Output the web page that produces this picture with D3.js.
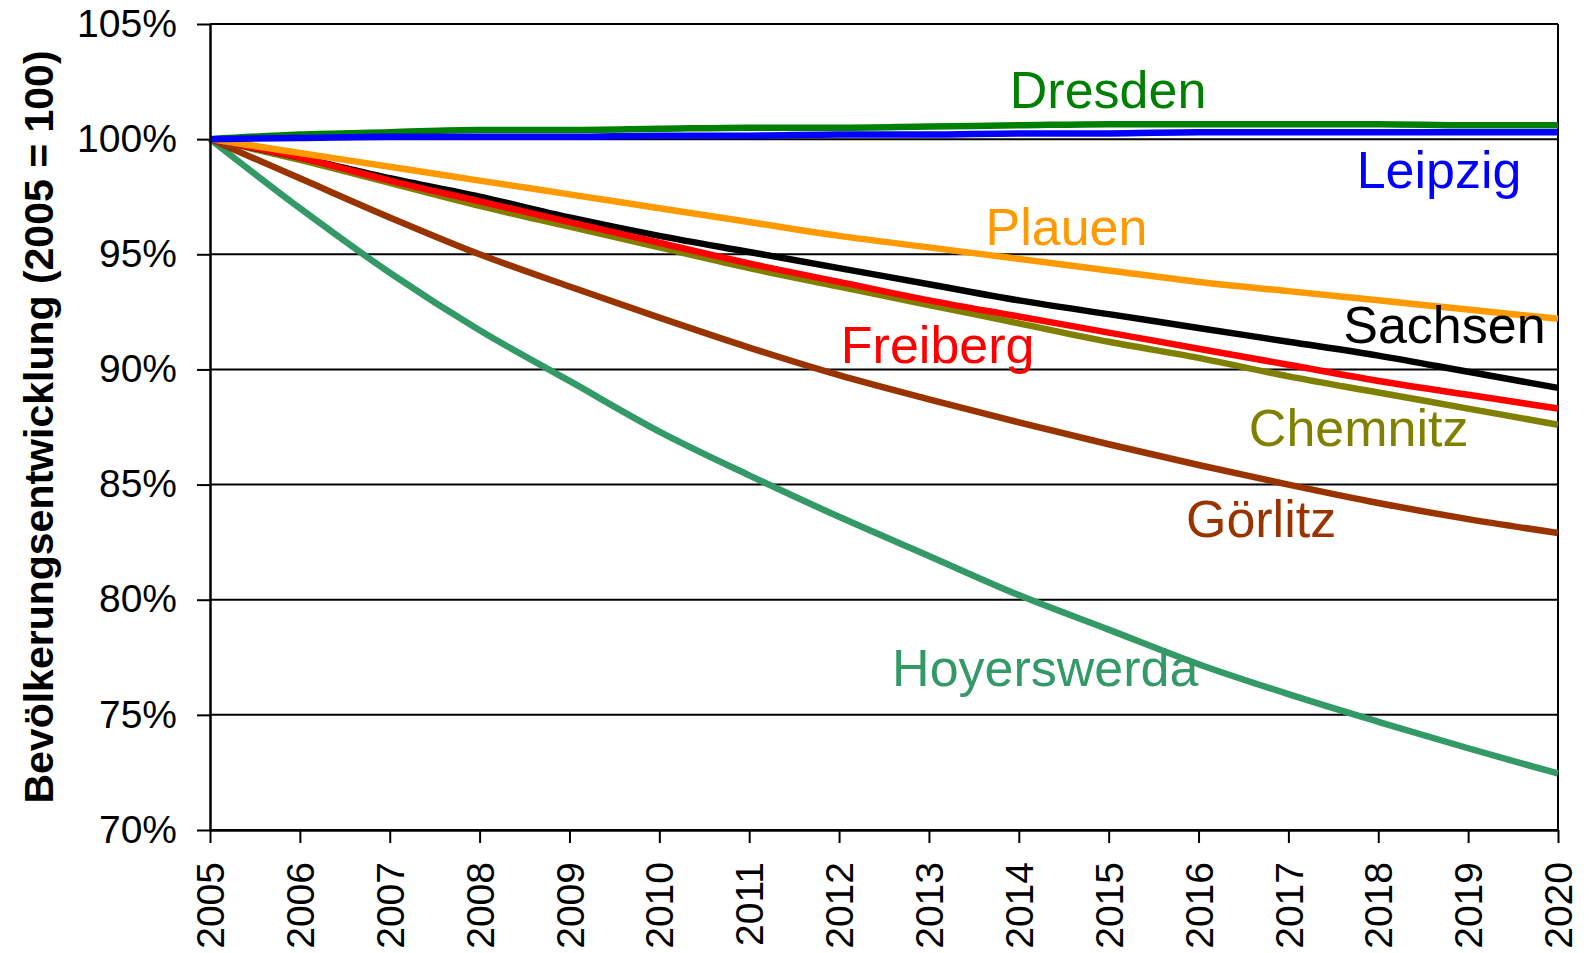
<!DOCTYPE html>
<html>
<head>
<meta charset="utf-8">
<script src="https://cdn.jsdelivr.net/npm/d3@7"></script>
<style>
  body { margin: 0; background: #fff; }
  text { font-family: Arial, "Liberation Sans", sans-serif; }
</style>
</head>
<body>
<div id="chart"></div>
<script>
const years = d3.range(2005, 2021);
const yTicks = [70, 75, 80, 85, 90, 95, 100, 105];

// Bevölkerung in % von 2005
const dresden     = [100, 100.2, 100.3, 100.4, 100.4, 100.45, 100.5, 100.5, 100.55, 100.6, 100.65, 100.65, 100.65, 100.65, 100.6, 100.6];
const leipzig     = [100, 100.05, 100.1, 100.1, 100.1, 100.15, 100.15, 100.2, 100.2, 100.25, 100.25, 100.3, 100.3, 100.3, 100.3, 100.3];
const plauen      = [100, 99.4, 98.8, 98.2, 97.6, 97.0, 96.4, 95.8, 95.3, 94.8, 94.3, 93.8, 93.4, 93.0, 92.6, 92.2];
const sachsen     = [100, 99.2, 98.3, 97.5, 96.6, 95.8, 95.1, 94.4, 93.7, 93.0, 92.4, 91.8, 91.2, 90.6, 89.9, 89.2];
const freiberg    = [100, 99.2, 98.2, 97.3, 96.4, 95.5, 94.6, 93.8, 93.0, 92.3, 91.6, 90.9, 90.2, 89.5, 88.9, 88.3];
const chemnitz    = [100, 99.1, 98.1, 97.1, 96.2, 95.3, 94.4, 93.6, 92.8, 92.0, 91.2, 90.5, 89.7, 89.0, 88.3, 87.6];
const goerlitz    = [100, 98.3, 96.6, 95.0, 93.6, 92.25, 90.95, 89.75, 88.7, 87.7, 86.75, 85.85, 85.0, 84.2, 83.5, 82.9];
const hoyerswerda = [100, 97.0, 94.2, 91.7, 89.5, 87.3, 85.4, 83.6, 81.9, 80.2, 78.7, 77.2, 75.9, 74.7, 73.55, 72.45];

// drawing order: bottom first
const series = [
  { name: 'Hoyerswerda', values: hoyerswerda, color: '#339966' },
  { name: 'Görlitz',     values: goerlitz,    color: '#993300' },
  { name: 'Chemnitz',    values: chemnitz,    color: '#808000' },
  { name: 'Sachsen',     values: sachsen,     color: '#000000' },
  { name: 'Freiberg',    values: freiberg,    color: '#FF0000' },
  { name: 'Plauen',      values: plauen,      color: '#FF9900' },
  { name: 'Dresden',     values: dresden,     color: '#008000' },
  { name: 'Leipzig',     values: leipzig,     color: '#0000FF' }
];

// label anchors in data units (year, %)
const labelAt = {
  'Dresden':     [2013.9, 101.37],
  'Leipzig':     [2017.76, 97.86],
  'Plauen':      [2013.63, 95.4],
  'Sachsen':     [2017.61, 91.14],
  'Freiberg':    [2012.02, 90.27],
  'Chemnitz':    [2016.56, 86.68],
  'Görlitz':     [2015.86, 82.71],
  'Hoyerswerda': [2012.59, 76.24]
};

const width = 1589, height = 953;
const margin = { top: 24, right: 31, bottom: 123, left: 210 };

const svg = d3.select('#chart').append('svg')
  .attr('width', width).attr('height', height);

const x = d3.scaleLinear().domain([2005, 2020]).range([margin.left, width - margin.right]);
const y = d3.scaleLinear().domain([70, 105]).range([height - margin.bottom, margin.top]);

// gridlines
svg.append('g')
  .selectAll('line')
  .data(yTicks)
  .join('line')
  .attr('x1', x(2005)).attr('x2', x(2020))
  .attr('y1', d => y(d)).attr('y2', d => y(d))
  .attr('stroke', '#000').attr('stroke-width', 2);

// right border
svg.append('line')
  .attr('x1', x(2020)).attr('x2', x(2020))
  .attr('y1', y(105)).attr('y2', y(70))
  .attr('stroke', '#000').attr('stroke-width', 2);

const line = d3.line()
  .x((d, i) => x(years[i]))
  .y(d => y(d))
  .curve(d3.curveMonotoneX);

svg.append('g')
  .selectAll('path')
  .data(series)
  .join('path')
  .attr('d', d => line(d.values))
  .attr('fill', 'none')
  .attr('stroke', d => d.color)
  .attr('stroke-width', 6.5)
  .attr('stroke-linejoin', 'round');

// axes
const yAxis = svg.append('g')
  .attr('transform', `translate(${margin.left},0)`)
  .call(d3.axisLeft(y).tickValues(yTicks).tickSize(13).tickSizeOuter(0).tickPadding(20)
    .tickFormat(d => d + '%'));
yAxis.selectAll('text').attr('font-size', 38).attr('fill', '#000')
  .attr('font-family', 'Arial, "Liberation Sans", sans-serif')
  .attr('textLength', d => d >= 100 ? 100 : 78)
  .attr('lengthAdjust', 'spacingAndGlyphs');

const xAxis = svg.append('g')
  .attr('transform', `translate(0,${y(70)})`)
  .call(d3.axisBottom(x).tickValues(years).tickSize(13).tickSizeOuter(0).tickFormat(d3.format('d')));
xAxis.selectAll('text')
  .attr('font-size', 39).attr('fill', '#000')
  .attr('font-family', 'Arial, "Liberation Sans", sans-serif')
  .attr('text-anchor', 'end')
  .attr('x', 0).attr('y', 0).attr('dy', '0.35em')
  .attr('transform', 'translate(0,32) rotate(-90)');

[yAxis, xAxis].forEach(a => {
  a.select('.domain').attr('stroke', '#000').attr('stroke-width', 2.5);
  a.selectAll('.tick line').attr('stroke', '#000').attr('stroke-width', 2);
});

// y title
svg.append('text')
  .attr('transform', `translate(53,${(y(70) + y(105)) / 2}) rotate(-90)`)
  .attr('text-anchor', 'middle')
  .attr('font-size', 41)
  .attr('font-weight', 'bold')
  .text('Bevölkerungsentwicklung (2005 = 100)');

// series labels
svg.append('g')
  .selectAll('text')
  .data(series)
  .join('text')
  .attr('x', d => x(labelAt[d.name][0]))
  .attr('y', d => y(labelAt[d.name][1]))
  .attr('font-size', 52)
  .attr('fill', d => d.color)
  .text(d => d.name);
</script>
</body>
</html>
